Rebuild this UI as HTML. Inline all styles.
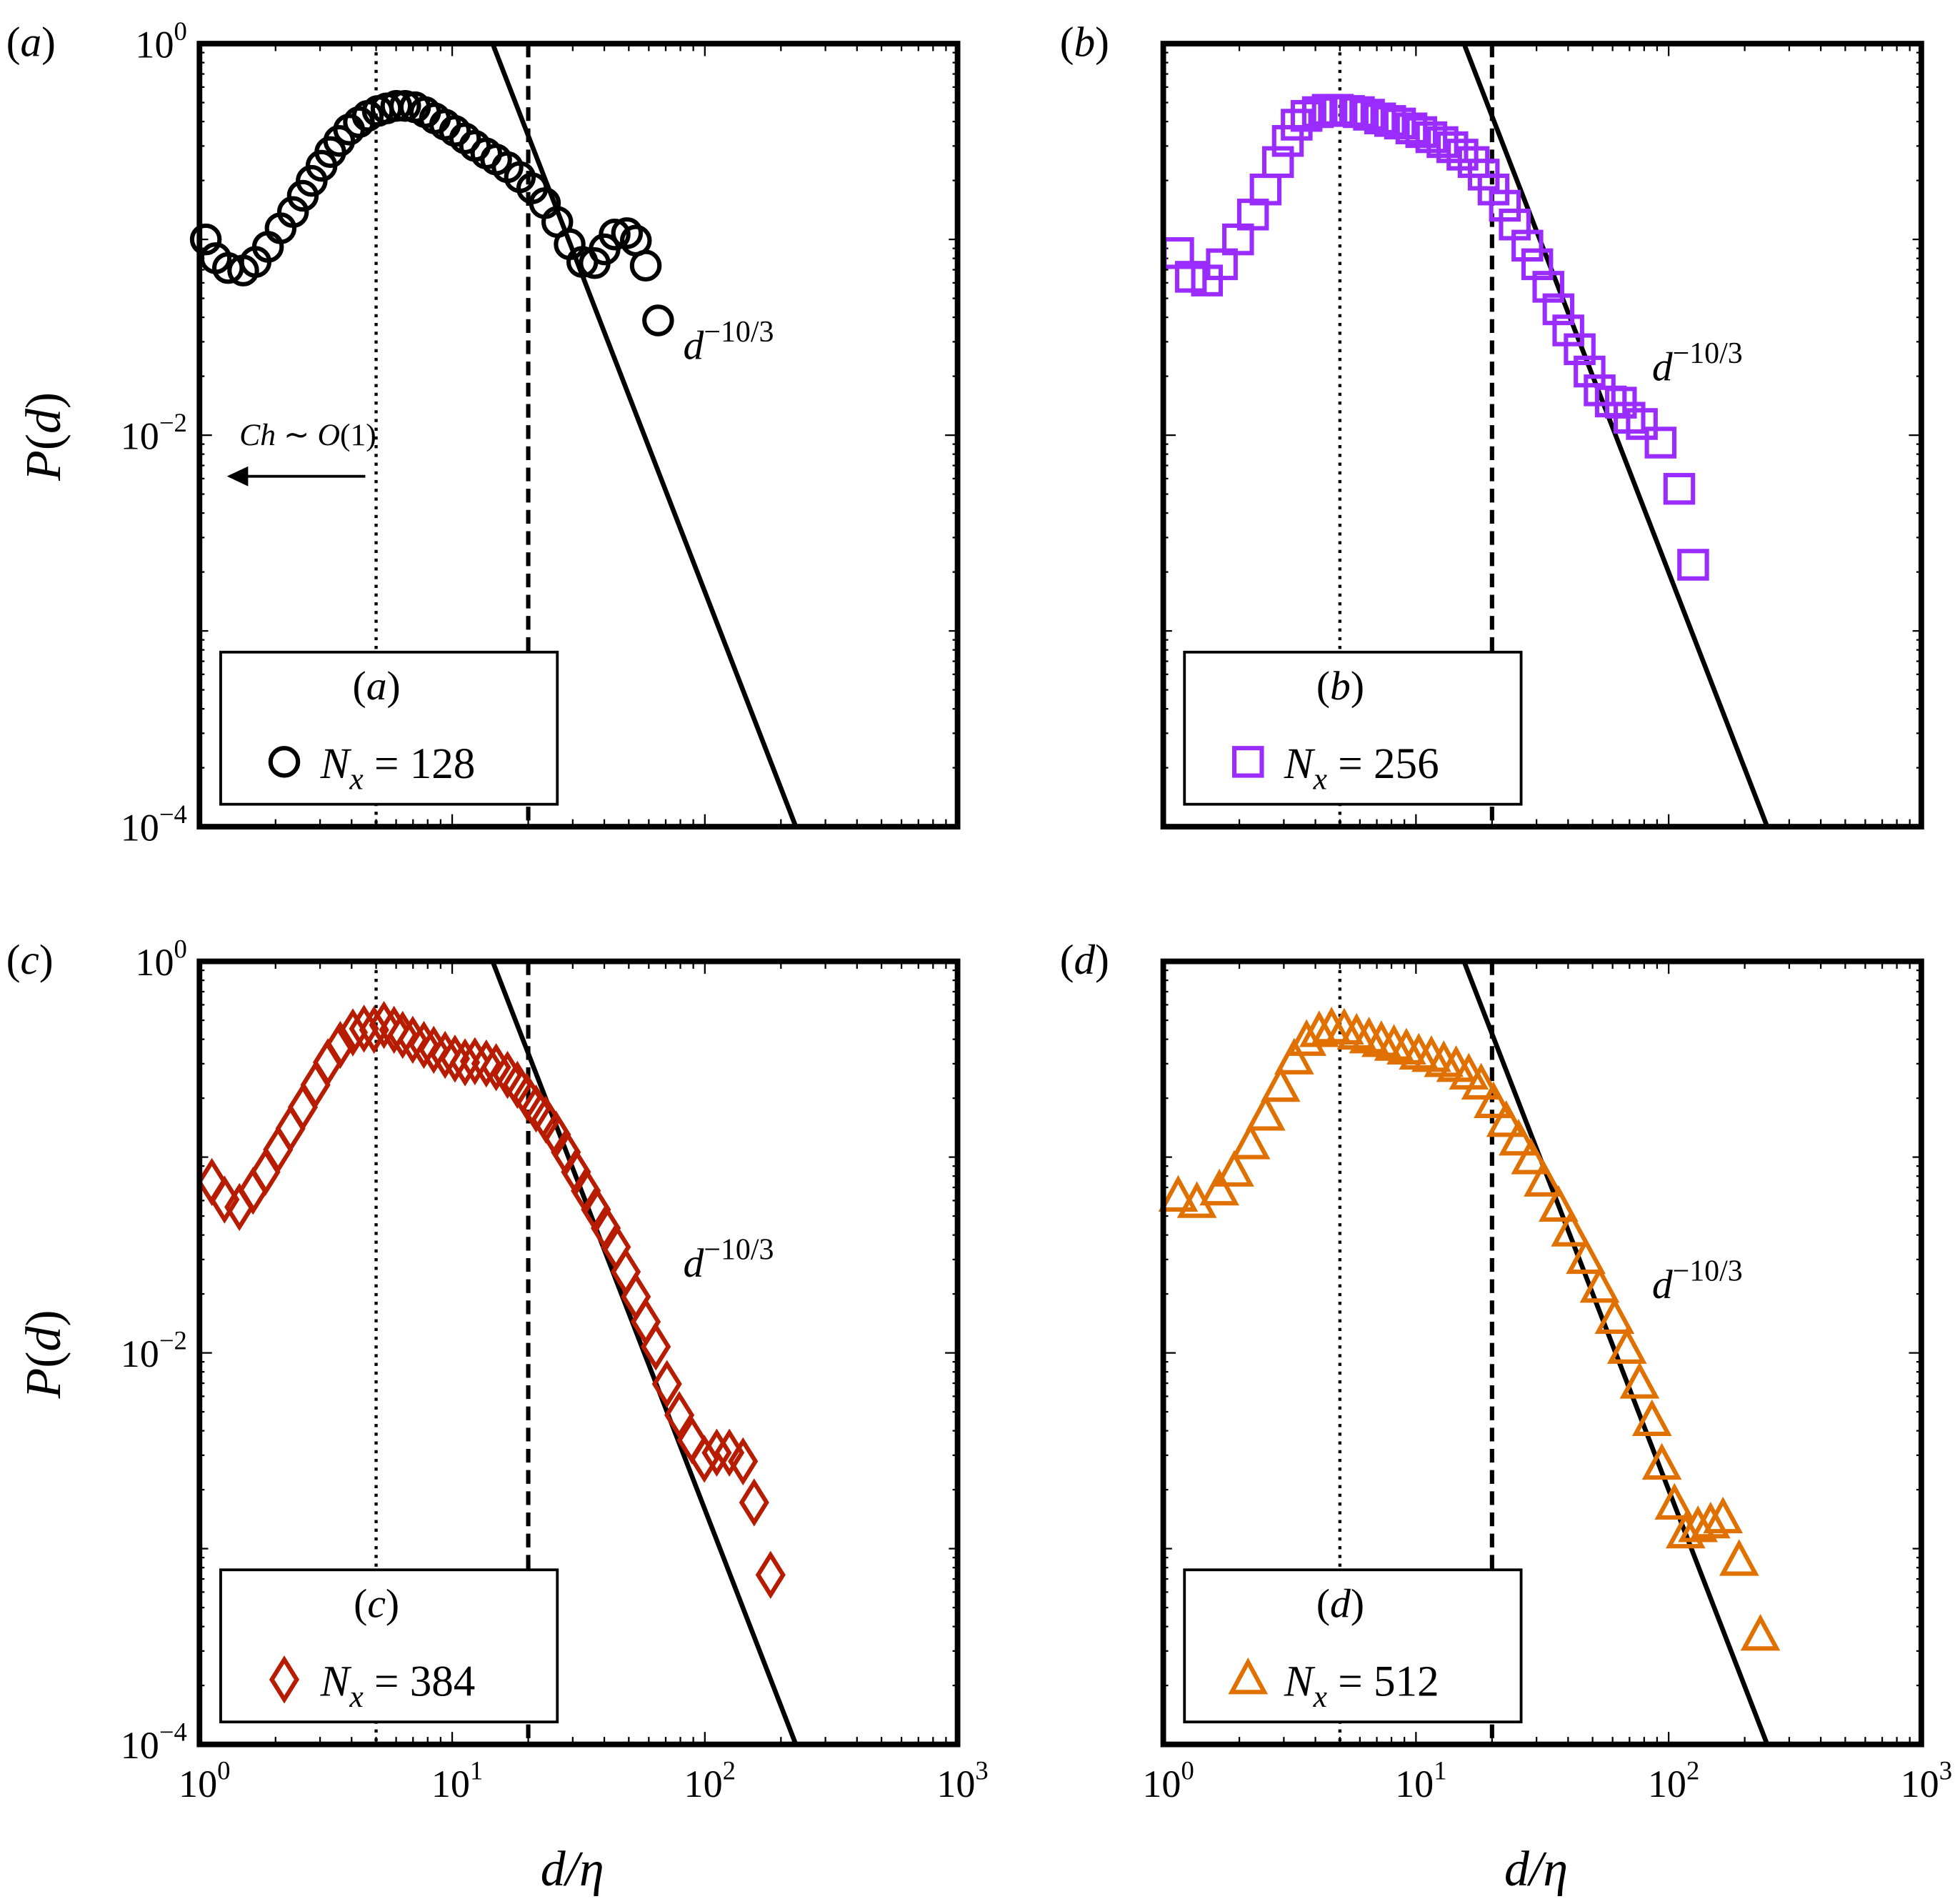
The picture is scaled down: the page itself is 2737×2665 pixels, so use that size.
<!DOCTYPE html>
<html><head><meta charset="utf-8">
<style>
html,body{margin:0;padding:0;background:#fff;}
svg{display:block;}
text{font-family:"Liberation Serif",serif;fill:#000;}
</style></head>
<body>
<svg id="fig" width="2737" height="2665" viewBox="0 0 1568 1527" preserveAspectRatio="none" xmlns="http://www.w3.org/2000/svg"></svg>
<script>
// ---- data (log10 values) ----
const logDa = [0.025,0.064,0.113,0.173,0.222,0.271,0.321,0.370,0.409,0.444,0.483,0.518,0.553,0.592,0.631,0.666,0.706,0.740,0.779,0.814,0.853,0.893,0.932,0.972,1.011,1.051,1.090,1.135,1.174,1.219,1.268,1.317,1.367,1.416,1.465,1.515,1.564,1.603,1.643,1.692,1.727,1.766,1.815];
const logPa = [-1.0,-1.096,-1.146,-1.159,-1.115,-1.038,-0.943,-0.860,-0.777,-0.701,-0.624,-0.554,-0.497,-0.439,-0.401,-0.369,-0.344,-0.331,-0.318,-0.318,-0.325,-0.350,-0.382,-0.414,-0.446,-0.484,-0.522,-0.561,-0.592,-0.631,-0.682,-0.739,-0.815,-0.911,-1.025,-1.115,-1.121,-1.051,-0.975,-0.968,-1.006,-1.134,-1.414];
const logDb = [0.059,0.109,0.173,0.232,0.296,0.355,0.405,0.454,0.493,0.528,0.567,0.612,0.651,0.691,0.735,0.774,0.814,0.858,0.898,0.937,0.982,1.021,1.061,1.105,1.144,1.184,1.228,1.268,1.307,1.352,1.391,1.441,1.480,1.524,1.564,1.603,1.648,1.687,1.727,1.771,1.811,1.845,1.894,1.968,2.042,2.097];
const logPb = [-1.070,-1.191,-1.210,-1.127,-1.0,-0.873,-0.745,-0.605,-0.497,-0.414,-0.369,-0.350,-0.338,-0.338,-0.344,-0.350,-0.363,-0.382,-0.395,-0.408,-0.433,-0.452,-0.478,-0.503,-0.529,-0.567,-0.605,-0.669,-0.745,-0.828,-0.924,-1.032,-1.127,-1.242,-1.357,-1.465,-1.561,-1.675,-1.771,-1.828,-1.834,-1.911,-1.943,-2.038,-2.274,-2.662];
const logDc = [0.049,0.099,0.158,0.212,0.261,0.311,0.360,0.409,0.459,0.508,0.557,0.607,0.651,0.691,0.730,0.770,0.804,0.844,0.888,0.927,0.972,1.011,1.051,1.090,1.135,1.174,1.219,1.258,1.297,1.332,1.371,1.411,1.450,1.490,1.529,1.569,1.608,1.648,1.687,1.727,1.766,1.806,1.850,1.899,1.949,1.998,2.047,2.097,2.151,2.195,2.260];
const logPc = [-1.127,-1.217,-1.255,-1.172,-1.076,-0.962,-0.854,-0.745,-0.631,-0.516,-0.427,-0.363,-0.344,-0.350,-0.325,-0.350,-0.376,-0.401,-0.427,-0.452,-0.478,-0.497,-0.516,-0.510,-0.522,-0.541,-0.580,-0.631,-0.694,-0.752,-0.809,-0.885,-0.975,-1.076,-1.172,-1.268,-1.363,-1.459,-1.586,-1.713,-1.841,-1.968,-2.159,-2.318,-2.446,-2.541,-2.510,-2.510,-2.554,-2.764,-3.134];
const logDd = [0.059,0.133,0.222,0.281,0.345,0.405,0.464,0.518,0.567,0.617,0.666,0.716,0.765,0.814,0.863,0.913,0.962,1.011,1.061,1.110,1.159,1.209,1.258,1.307,1.357,1.406,1.455,1.505,1.564,1.613,1.672,1.727,1.786,1.835,1.885,1.934,1.973,2.023,2.067,2.116,2.166,2.215,2.279,2.363];
const logPd = [-1.204,-1.236,-1.172,-1.076,-0.936,-0.790,-0.643,-0.503,-0.408,-0.363,-0.344,-0.350,-0.376,-0.395,-0.414,-0.433,-0.452,-0.478,-0.490,-0.516,-0.541,-0.580,-0.631,-0.726,-0.822,-0.917,-1.013,-1.127,-1.255,-1.382,-1.522,-1.669,-1.828,-1.981,-2.159,-2.350,-2.573,-2.777,-2.924,-2.892,-2.873,-2.847,-3.064,-3.446];
const panelNames = ["a","b","c","d"];
const nxLabels = ["128","256","384","512"];
const lineX0 = [1.16,1.19,1.16,1.19]; // log d where d^-10/3 line hits P=1
const dotted = 5, dashed = 20;
const xTickLabels = ["0","1","2","3"];
const yTickLabels = ["0","-2","-4"];

const NS="http://www.w3.org/2000/svg";
const svg=document.getElementById('fig');
function el(t,a,p){const e=document.createElementNS(NS,t);for(const k in a)e.setAttribute(k,a[k]);(p||svg).appendChild(e);return e;}

const boxes=[{l:160,t:35},{l:933,t:35},{l:160,t:771},{l:933,t:771}];
const W=608,H=628;
const colors=["#000","#9a2cff","#b81c00","#e07000"];
const datasets=[[logDa,logPa],[logDb,logPb],[logDc,logPc],[logDd,logPd]];

boxes.forEach((b,i)=>{
  const g=el('g',{});
  
  
  const X=v=>b.l+v/3*W, Y=v=>b.t-v/4*H;
  const cp=el('clipPath',{id:'cp'+i},g); el('rect',{x:b.l,y:b.t,width:W,height:H},cp);
  for(let dec=0;dec<3;dec++)for(let m=1;m<10;m++){
    const lx=dec+Math.log10(m); const x=X(lx); const len=m===1?10:6;
    el('line',{x1:x,y1:b.t+H,x2:x,y2:b.t+H-len,stroke:'#000','stroke-width':1.3},g);
    el('line',{x1:x,y1:b.t,x2:x,y2:b.t+len,stroke:'#000','stroke-width':1.3},g);
  }
  for(let dec=-4;dec<0;dec++)for(let m=1;m<10;m++){
    const ly=dec+Math.log10(m); const y=Y(ly); const len=(m===1&&dec%2===0)?10:(m===1?7:4);
    el('line',{x1:b.l,y1:y,x2:b.l+len,y2:y,stroke:'#000','stroke-width':1.3},g);
    el('line',{x1:b.l+W,y1:y,x2:b.l+W-len,y2:y,stroke:'#000','stroke-width':1.3},g);
  }
  const vd=el('line',{x1:X(Math.log10(dotted)),y1:b.t,x2:X(Math.log10(dotted)),y2:b.t+H,stroke:'#000','stroke-width':2.5,'stroke-dasharray':'2.5 4.5'},g);
  
  
  const vD=el('line',{x1:X(Math.log10(dashed)),y1:b.t,x2:X(Math.log10(dashed)),y2:b.t+H,stroke:'#000','stroke-width':3.5,'stroke-dasharray':'11 6'},g);
  
  
  const x0=lineX0[i], x1=x0+1.2;
  const pl=el('line',{x1:X(x0),y1:Y(0),x2:X(x1),y2:Y(-4),stroke:'#000','stroke-width':3.8,'clip-path':'url(#cp'+i+')'},g);
  
  
  const [dx,dy]=datasets[i]; const c=colors[i];
  const mk=(x,y,parent)=>{
    let m;
    if(i===0)m=el('circle',{cx:x,cy:y,r:11,fill:'none',stroke:c,'stroke-width':3.5},parent);
    else if(i===1)m=el('rect',{x:x-11,y:y-11,width:22,height:22,fill:'none',stroke:c,'stroke-width':3.5},parent);
    else if(i===2)m=el('polygon',{points:`${x},${y-16} ${x+10},${y} ${x},${y+16} ${x-10},${y}`,fill:'none',stroke:c,'stroke-width':3.5},parent);
    else m=el('polygon',{points:`${x},${y-14} ${x+13},${y+10} ${x-13},${y+10}`,fill:'none',stroke:c,'stroke-width':3.5},parent);
    return m;
  };
  dx.forEach((v,k)=>{
    const m=mk(X(v),Y(dy[k]),g);
    
    
  });
  el('rect',{x:b.l,y:b.t,width:W,height:H,fill:'none',stroke:'#000','stroke-width':4.5},g);
  const ax = (i%2===0)? b.l+388 : b.l+392;
  const an=el('text',{x:ax,y:(i%2===1?b.t+270:b.t+253),'font-size':33,'font-style':'italic'},g);
  an.innerHTML='d<tspan dy="-14" font-size="24" font-style="normal">−10/3</tspan>';
  
  
  const lg=el('g',{},g);
  
  
  el('rect',{x:b.l+17,y:b.t+488,width:270,height:122,fill:'#fff',stroke:'#000','stroke-width':2.2},lg);
  const lt=el('text',{x:b.l+142,y:b.t+526,'font-size':33,'text-anchor':'middle'},lg);
  lt.innerHTML='(<tspan font-style="italic">'+panelNames[i]+'</tspan>)';
  mk(b.l+68,b.t+576,lg);
  const nt=el('text',{x:b.l+97,y:b.t+589,'font-size':35},lg);
  nt.innerHTML='<tspan font-style="italic">N</tspan><tspan font-style="italic" font-size="25" dy="9">x</tspan><tspan dy="-9"> = '+nxLabels[i]+'</tspan>';
  const pt=el('text',{x:(i%2===0?b.l-155:b.l-83),y:b.t+10,'font-size':34});
  pt.innerHTML='(<tspan font-style="italic">'+panelNames[i]+'</tspan>)';
  
  
  if(i%2===0){
    yTickLabels.forEach(s=>{
      const t=el('text',{x:b.l-10,y:Y(+s)+11,'font-size':31,'text-anchor':'end'});
      t.innerHTML='10<tspan dy="-14" font-size="21">'+(s==='0'?'0':'−'+s.slice(1))+'</tspan>';
    });
  }
  if(i>=2){
    xTickLabels.forEach(s=>{
      const t=el('text',{x:X(+s)+4,y:b.t+H+42,'font-size':31,'text-anchor':'middle'});
      t.innerHTML='10<tspan dy="-14" font-size="21">'+s+'</tspan>';
    });
    const xl=el('text',{x:b.l+W/2-5,y:1512,'font-size':40,'font-style':'italic','text-anchor':'middle'});
    xl.textContent='d/η';
    
    
  }
  if(i%2===0){
    const yl=el('text',{x:0,y:0,'font-size':40,'text-anchor':'middle',transform:`translate(48,${b.t+315}) rotate(-90)`});
    yl.innerHTML='<tspan font-style="italic">P</tspan>(<tspan font-style="italic">d</tspan>)';
    
    
  }
});
const ag=el('g',{});


el('line',{x1:293,y1:382,x2:195,y2:382,stroke:'#000','stroke-width':2.2},ag);
el('polygon',{points:'182,382 199,374 199,390',fill:'#000'},ag);
const ct=el('text',{x:192,y:357,'font-size':25},ag);
ct.innerHTML='<tspan font-style="italic">Ch</tspan> ∼ <tspan font-style="italic">O</tspan>(1)';
</script>
</body></html>
